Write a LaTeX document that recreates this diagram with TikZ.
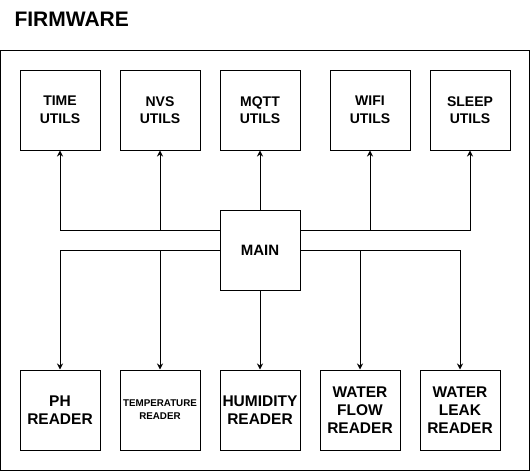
\documentclass[tikz,border=0pt]{standalone}
\usepackage{fontspec}
\setmainfont{Liberation Sans}
\usetikzlibrary{arrows.meta}
\tikzset{
  box/.style={draw=black, line width=1pt, minimum width=80pt, minimum height=80pt, inner sep=0pt, align=center, font=\bfseries\fontsize{14}{17.5}\selectfont},
  mbox/.style={box, font=\bfseries\fontsize{15}{18}\selectfont},
  rbox/.style={box, font=\bfseries\fontsize{15.5}{18}\selectfont},
  sbox/.style={box, font=\bfseries\fontsize{9.8}{13}\selectfont},
  conn/.style={draw=black, line width=1pt},
  arr/.style={conn, -{Stealth[length=6pt,width=6pt]}}
}
\begin{document}
\begin{tikzpicture}[x=1pt,y=-1pt]
\useasboundingbox (0,0) rectangle (531,471);
\node[anchor=base west, font=\bfseries\fontsize{21}{25}\selectfont] (title) at (11,27) {FIRMWARE};
\draw[line width=1pt] (0.5,50) rectangle (529.5,470);
% top row
\node[box] (time) at (60,110) {TIME\\UTILS};
\node[box] (nvs) at (160,110) {NVS\\UTILS};
\node[box] (mqtt) at (260,110) {MQTT\\UTILS};
\node[box] (wifi) at (370,110) {WIFI\\UTILS};
\node[box] (sleep) at (470,110) {SLEEP\\UTILS};
% main
\node[mbox] (main) at (260,250) {MAIN};
% bottom row
\node[rbox] (ph) at (60,410) {PH\\READER};
\node[sbox] (temp) at (160,410) {TEMPERATURE\\READER};
\node[rbox] (hum) at (260,410) {HUMIDITY\\READER};
\node[rbox] (flow) at (360,410) {WATER\\FLOW\\READER};
\node[rbox] (leak) at (460,410) {WATER\\LEAK\\READER};
% connector anchors
\coordinate (mL1) at ([yshift=20pt]main.west);
\coordinate (mR1) at ([yshift=20pt]main.east);
\coordinate (mL2) at ([yshift=0pt]main.west);
\coordinate (mR2) at ([yshift=0pt]main.east);
% top connectors
\draw[arr] (mL1) -| (time);
\draw[arr] (mL1) -| (nvs);
\draw[arr] (main) -- (mqtt);
\draw[arr] (mR1) -| (wifi);
\draw[arr] (mR1) -| (sleep);
% bottom connectors
\draw[arr] (mL2) -| (ph);
\draw[arr] (mL2) -| (temp);
\draw[arr] (main) -- (hum);
\draw[arr] (mR2) -| (flow);
\draw[arr] (mR2) -| (leak);
\end{tikzpicture}
\end{document}
